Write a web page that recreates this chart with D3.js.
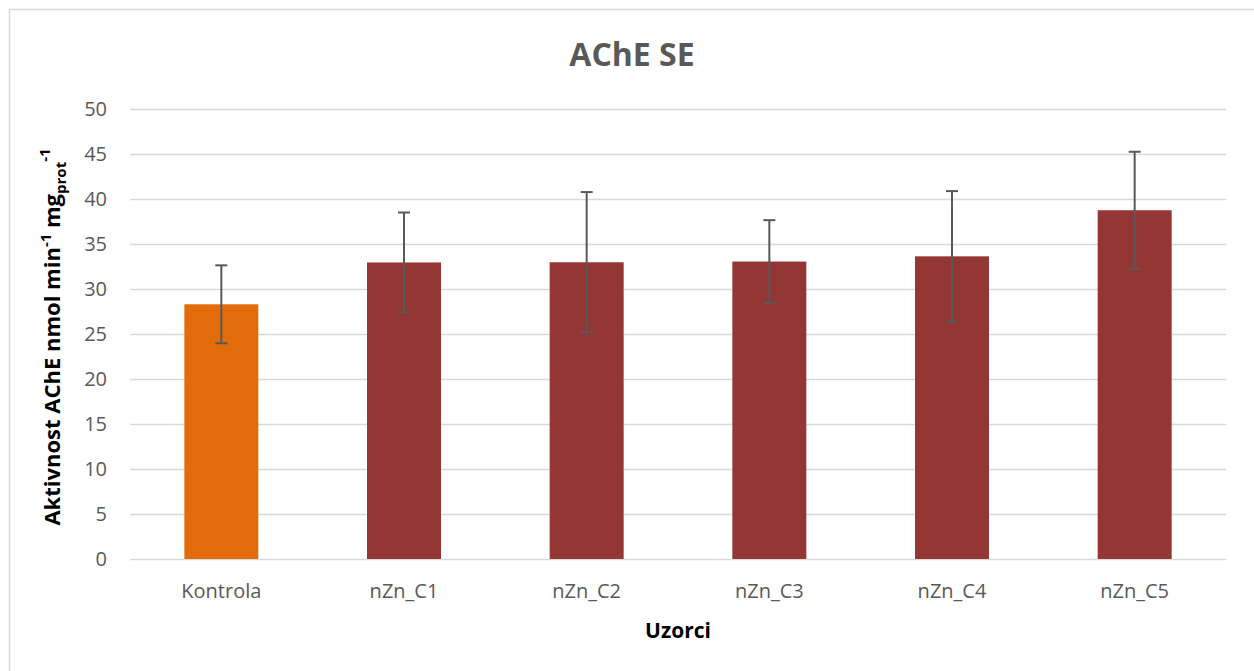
<!DOCTYPE html>
<html><head><meta charset="utf-8">
<script src="https://cdn.jsdelivr.net/npm/d3@7"></script>
<style>
html,body{margin:0;padding:0;background:#fff;}
svg{display:block;font-family:"Open Sans",sans-serif;}
</style></head>
<body><svg id="c" width="1254" height="671"></svg>
<script>
const categories = ["Kontrola","nZn_C1","nZn_C2","nZn_C3","nZn_C4","nZn_C5"];
const values = [28.3, 32.95, 32.97, 33.05, 33.63, 38.75];
const errors = [4.33, 5.55, 7.8, 4.6, 7.25, 6.5];
const yTicks = [0,5,10,15,20,25,30,35,40,45,50];
const colors = ["#E36C0A","#943634","#943634","#943634","#943634","#943634"];

const svg = d3.select("#c");
const m = {left:130, right:1226, top:109, bottom:559};

// chart frame (top & left)
svg.append("line").attr("x1",9.5).attr("x2",1254).attr("y1",9.5).attr("y2",9.5).attr("stroke","#d9d9d9").attr("stroke-width",1.5);
svg.append("line").attr("x1",9.5).attr("x2",9.5).attr("y1",9.5).attr("y2",671).attr("stroke","#d9d9d9").attr("stroke-width",1.5);

const x = d3.scaleBand().domain(categories).range([m.left, m.right]).paddingInner(0.595).paddingOuter(0.2975);
const y = d3.scaleLinear().domain([0,50]).range([m.bottom, m.top]);

// gridlines
svg.append("g").selectAll("line").data(yTicks).join("line")
  .attr("x1",m.left).attr("x2",m.right)
  .attr("y1",d=>Math.round(y(d))+0.5).attr("y2",d=>Math.round(y(d))+0.5)
  .attr("stroke","#d9d9d9").attr("stroke-width",1.3);

// y axis labels
const yAxis = d3.axisLeft(y).tickValues(yTicks).tickSize(0).tickPadding(0);
const ya = svg.append("g").attr("transform",`translate(${107},0)`).call(yAxis);
ya.select(".domain").remove();
ya.selectAll("text").attr("fill","#595959").style("font-size","20px").style("font-family","'Open Sans',sans-serif");

// bars
svg.append("g").selectAll("rect").data(categories).join("rect")
  .attr("x",d=>x(d)).attr("width",x.bandwidth())
  .attr("y",(d,i)=>y(values[i])).attr("height",(d,i)=>y(0)-y(values[i]))
  .attr("fill",(d,i)=>colors[i]);

// error bars
const eg = svg.append("g").attr("stroke","#595959").attr("stroke-width",2);
categories.forEach((c,i)=>{
  const cx = x(c)+x.bandwidth()/2;
  eg.append("line").attr("x1",cx).attr("x2",cx).attr("y1",y(values[i]+errors[i])).attr("y2",y(values[i]-errors[i]));
  [values[i]+errors[i], values[i]-errors[i]].forEach(v=>{
    eg.append("line").attr("x1",cx-6).attr("x2",cx+6).attr("y1",y(v)).attr("y2",y(v));
  });
});

// x axis labels
const xAxis = d3.axisBottom(x).tickSize(0).tickPadding(0);
const xa = svg.append("g").attr("transform",`translate(0,${584})`).call(xAxis);
xa.select(".domain").remove();
xa.selectAll("text").attr("fill","#595959").style("font-size","20px").style("font-family","'Open Sans',sans-serif");

// title
svg.append("text").attr("x",632).attr("y",66).attr("text-anchor","middle")
  .attr("fill","#595959").style("font-size","32px").style("font-weight","bold").text("AChE SE");

// x title
svg.append("text").attr("x",678).attr("y",638).attr("text-anchor","middle")
  .attr("fill","#000").style("font-size","21px").style("font-weight","bold").text("Uzorci");

// y title
const yt = svg.append("text").attr("transform","translate(60,337) rotate(-90)").attr("text-anchor","middle")
  .attr("fill","#000").style("font-size","22px").style("font-weight","bold");
yt.append("tspan").text("Aktivnost AChE nmol min");
yt.append("tspan").attr("dy",-9).style("font-size","15px").text("-1");
yt.append("tspan").attr("dy",9).text(" mg");
yt.append("tspan").attr("dy",6).style("font-size","15px").text("prot");
yt.append("tspan").attr("dy",-16).style("font-size","15px").text("-1");
</script></body></html>
